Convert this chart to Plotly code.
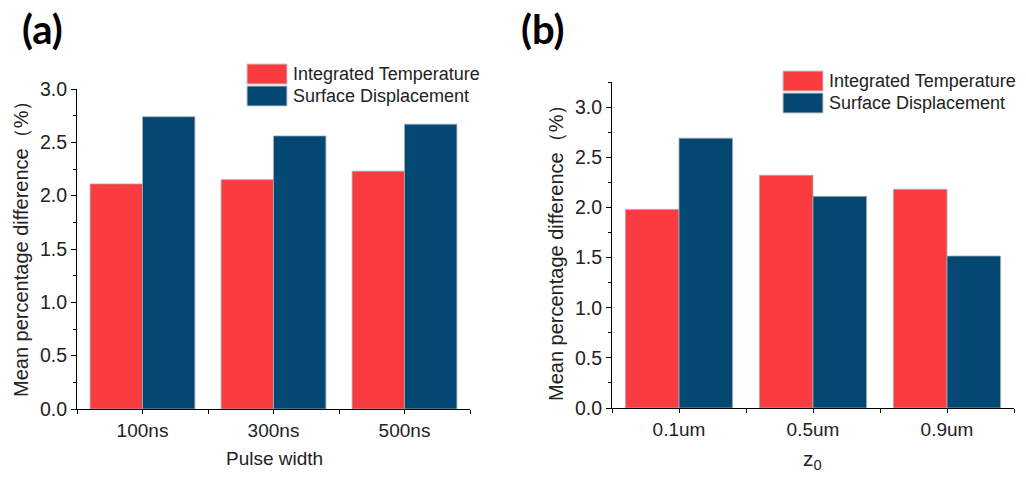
import plotly.graph_objects as go

W, H = 1026, 477

# ---- data ----
cats_a = ["100ns", "300ns", "500ns"]
temp_a = [2.11, 2.15, 2.23]
disp_a = [2.74, 2.56, 2.67]

cats_b = ["0.1um", "0.5um", "0.9um"]
temp_b = [1.98, 2.32, 2.18]
disp_b = [2.69, 2.11, 1.515]

series_names = ["Integrated Temperature", "Surface Displacement"]
RED = "rgb(250,60,64)"
BLUE = "rgb(2,72,114)"
EDGE = "rgb(165,175,185)"
FONT = "Liberation Sans, Arial, sans-serif"


def px(x):
    return x / W


def py(y):
    return 1 - y / H


fig = go.Figure()
pos = [0, 1, 2]
for xa_id, ya_id, tv, dv in [("x", "y", temp_a, disp_a), ("x2", "y2", temp_b, disp_b)]:
    fig.add_trace(go.Bar(x=pos, y=tv, name=series_names[0],
                         marker=dict(color=RED, line=dict(width=0.8, color=EDGE)),
                         xaxis=xa_id, yaxis=ya_id, showlegend=False))
    fig.add_trace(go.Bar(x=pos, y=dv, name=series_names[1],
                         marker=dict(color=BLUE, line=dict(width=0.8, color=EDGE)),
                         xaxis=xa_id, yaxis=ya_id, showlegend=False))

axis_common = dict(showline=True, linecolor="black", linewidth=1, ticks="outside", ticklen=5,
                   tickcolor="black", showgrid=False, zeroline=False, automargin=False,
                   tickfont=dict(family=FONT, size=19.5, color="#222"))

xa = dict(axis_common, range=[-0.5, 2.5], tickvals=pos, ticklen=4,
          tickfont=dict(family=FONT, size=19, color="#222"),
          minor=dict(tickvals=[-0.5, 0.5, 1.5, 2.5], ticks="outside", ticklen=4, tickcolor="black"))
ya_minor = dict(dtick=0.25, ticks="outside", ticklen=3, tickcolor="black")

fig.update_layout(
    width=W, height=H,
    margin=dict(l=0, r=0, t=0, b=0, autoexpand=False),
    paper_bgcolor="white", plot_bgcolor="white",
    barmode="group", bargap=0.2, bargroupgap=0,
    xaxis=dict(xa, domain=[px(77), px(470)], ticktext=cats_a, anchor="y"),
    yaxis=dict(axis_common, domain=[py(409), py(89)], range=[0, 3.0], dtick=0.5, tickformat=".1f",
               minor=ya_minor, anchor="x"),
    xaxis2=dict(xa, domain=[px(612), px(1014)], ticktext=cats_b, anchor="y2"),
    yaxis2=dict(axis_common, domain=[py(408), py(82)], range=[0, 3.25], tickvals=[0, 0.5, 1, 1.5, 2, 2.5, 3],
                tickformat=".1f", minor=dict(tickvals=[0.25, 0.75, 1.25, 1.75, 2.25, 2.75, 3.25],
                                             ticks="outside", ticklen=3, tickcolor="black"),
                anchor="x2"),
    showlegend=False,
)

shapes = []
annotations = []


def legend(x0, y0):
    for i, (name, col) in enumerate(zip(series_names, [RED, BLUE])):
        top = y0 + i * 22
        shapes.append(dict(type="rect", xref="paper", yref="paper",
                           x0=px(x0), x1=px(x0 + 40), y0=py(top + 20), y1=py(top),
                           fillcolor=col, line=dict(color="rgb(200,200,200)", width=1)))
        annotations.append(dict(text=name, xref="paper", yref="paper", x=px(x0 + 44), y=py(top + 10),
                                xanchor="left", yanchor="middle", showarrow=False,
                                font=dict(family=FONT, size=18, color="#222")))


legend(247, 64)
legend(783, 71)

ytitle = "Mean percentage difference（%）"
annotations += [
    dict(text=ytitle, xref="paper", yref="paper", x=px(21), y=py(244), textangle=-90,
         showarrow=False, xanchor="center", yanchor="middle", font=dict(family=FONT, size=20, color="#222")),
    dict(text=ytitle, xref="paper", yref="paper", x=px(556), y=py(248), textangle=-90,
         showarrow=False, xanchor="center", yanchor="middle", font=dict(family=FONT, size=20, color="#222")),
    dict(text="Pulse width", xref="paper", yref="paper", x=px(274), y=py(458), showarrow=False,
         xanchor="center", yanchor="middle", font=dict(family=FONT, size=19, color="#222")),
    dict(text="z<sub>0</sub>", xref="paper", yref="paper", x=px(812), y=py(460), showarrow=False,
         xanchor="center", yanchor="middle", font=dict(family=FONT, size=21, color="#222")),
    dict(text="<b>(a)</b>", xref="paper", yref="paper", x=px(42), y=py(29), showarrow=False,
         xanchor="center", yanchor="middle", font=dict(family="Lato, Open Sans, sans-serif", size=40, color="black")),
    dict(text="<b>(b)</b>", xref="paper", yref="paper", x=px(543), y=py(29), showarrow=False,
         xanchor="center", yanchor="middle", font=dict(family="Lato, Open Sans, sans-serif", size=40, color="black")),
]

fig.update_layout(shapes=shapes, annotations=annotations)
fig.write_html("out.html")
